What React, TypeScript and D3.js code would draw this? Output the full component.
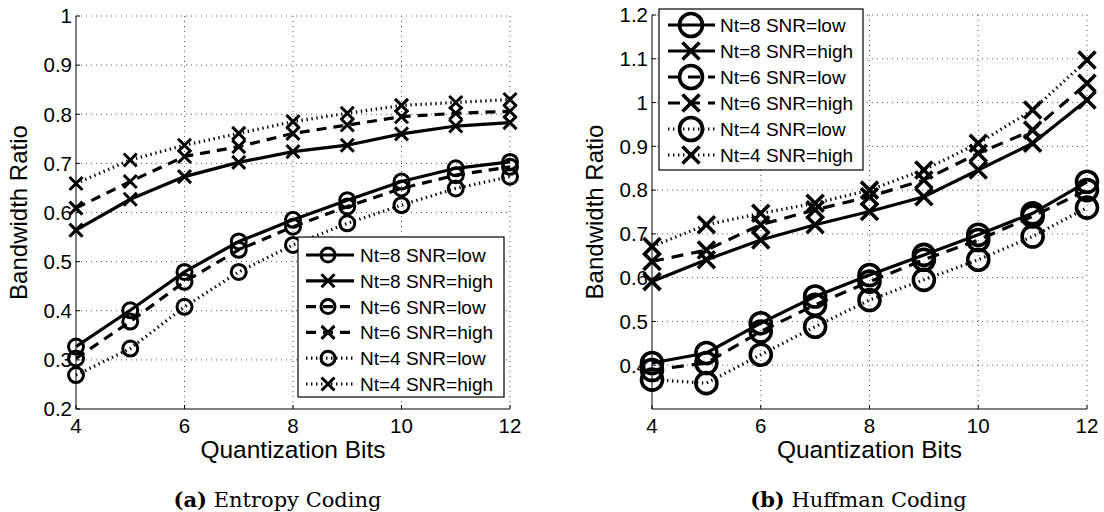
import React from "react";
import * as d3 from "d3";

const bits = [4, 5, 6, 7, 8, 9, 10, 11, 12];
const seriesNames = [
  "Nt=8 SNR=low",
  "Nt=8 SNR=high",
  "Nt=6 SNR=low",
  "Nt=6 SNR=high",
  "Nt=4 SNR=low",
  "Nt=4 SNR=high",
];
const seriesMarkers = ["o", "x", "o", "x", "o", "x"];
const seriesStyles = ["solid", "solid", "dashed", "dashed", "dotted", "dotted"];

// (a) Entropy Coding
const entNt8Low = [0.327, 0.401, 0.479, 0.541, 0.585, 0.625, 0.663, 0.69, 0.703];
const entNt8High = [0.564, 0.627, 0.673, 0.702, 0.724, 0.737, 0.76, 0.776, 0.783];
const entNt6Low = [0.303, 0.378, 0.459, 0.524, 0.571, 0.612, 0.649, 0.676, 0.693];
const entNt6High = [0.609, 0.663, 0.714, 0.734, 0.761, 0.778, 0.795, 0.802, 0.806];
const entNt4Low = [0.269, 0.323, 0.408, 0.479, 0.534, 0.578, 0.615, 0.649, 0.673];
const entNt4High = [0.659, 0.707, 0.737, 0.761, 0.785, 0.802, 0.818, 0.824, 0.83];

// (b) Huffman Coding
const hufNt8Low = [0.405, 0.428, 0.496, 0.557, 0.606, 0.652, 0.698, 0.747, 0.819];
const hufNt8High = [0.591, 0.641, 0.686, 0.721, 0.751, 0.785, 0.846, 0.907, 1.006];
const hufNt6Low = [0.389, 0.405, 0.477, 0.538, 0.591, 0.641, 0.686, 0.74, 0.8];
const hufNt6High = [0.637, 0.663, 0.721, 0.755, 0.785, 0.823, 0.884, 0.937, 1.044];
const hufNt4Low = [0.367, 0.359, 0.424, 0.488, 0.549, 0.595, 0.641, 0.694, 0.76];
const hufNt4High = [0.671, 0.721, 0.747, 0.77, 0.8, 0.846, 0.907, 0.983, 1.097];

const xTicks = [4, 6, 8, 10, 12];
const entYTicks = [0.2, 0.3, 0.4, 0.5, 0.6, 0.7, 0.8, 0.9, 1];
const hufYTicks = [0.4, 0.5, 0.6, 0.7, 0.8, 0.9, 1, 1.1, 1.2];

const xLabel = "Quantization Bits";
const yLabel = "Bandwidth Ratio";
const captions = [
  { tag: "(a)", text: "Entropy Coding" },
  { tag: "(b)", text: "Huffman Coding" },
];

const SANS = "'Liberation Sans', Arial, Helvetica, sans-serif";
const SERIF = "'DejaVu Serif', serif";

type PanelProps = {
  left: number;
  right: number;
  top: number;
  bottom: number;
  yDomain: [number, number];
  yTicks: number[];
  data: number[][];
  legend: { x: number; y: number; w: number; h: number; row0: number; rowGap: number; lineX0: number; lineX1: number; markX: number; textX: number };
  markR: number;
  xHalf: number;
  markW: number;
  lineW: number;
  dash: string;
  dot: string;
  legendR: number;
  legendXHalf: number;
  yLabelX: number;
};

function Marker({ type, cx, cy, r, xh, w }: { type: string; cx: number; cy: number; r: number; xh: number; w: number }) {
  if (type === "o") {
    return <circle cx={cx} cy={cy} r={r} fill="none" stroke="#000" strokeWidth={w} />;
  }
  return (
    <path
      d={`M${cx - xh},${cy - xh}L${cx + xh},${cy + xh}M${cx - xh},${cy + xh}L${cx + xh},${cy - xh}`}
      stroke="#000"
      strokeWidth={w}
      fill="none"
    />
  );
}

function Panel(p: PanelProps) {
  const x = d3.scaleLinear().domain([4, 12]).range([p.left, p.right]);
  const y = d3.scaleLinear().domain(p.yDomain).range([p.bottom, p.top]);
  const fmt = (v: number) => d3.format("~g")(v);
  const dashFor = (s: string) => (s === "dashed" ? p.dash : s === "dotted" ? p.dot : undefined);
  const line = d3
    .line<number>()
    .x((_, i) => x(bits[i]))
    .y((v) => y(v));
  const L = p.legend;
  return (
    <g>
      {/* grid */}
      {xTicks.filter((t) => t !== 4).map((t) => (
        <line key={"gx" + t} x1={x(t)} x2={x(t)} y1={p.top} y2={p.bottom} stroke="#555" strokeWidth={1} strokeDasharray="1,4" />
      ))}
      {p.yTicks.filter((t) => y(t) < p.bottom - 1).map((t) => (
        <line key={"gy" + t} x1={p.left} x2={p.right} y1={y(t)} y2={y(t)} stroke="#555" strokeWidth={1} strokeDasharray="1,4" />
      ))}
      {/* axes */}
      <line x1={p.left} x2={p.left} y1={p.top} y2={p.bottom} stroke="#000" strokeWidth={1} />
      <line x1={p.left} x2={p.right} y1={p.bottom} y2={p.bottom} stroke="#000" strokeWidth={1} />
      {xTicks.map((t) => (
        <g key={"xt" + t}>
          <line x1={x(t)} x2={x(t)} y1={p.bottom} y2={p.bottom - 4} stroke="#000" />
          <text x={x(t)} y={p.bottom + 24} textAnchor="middle" fontFamily={SANS} fontSize={20.5}>
            {fmt(t)}
          </text>
        </g>
      ))}
      {p.yTicks.map((t) => (
        <g key={"yt" + t}>
          <line x1={p.left} x2={p.left + 4} y1={y(t)} y2={y(t)} stroke="#000" />
          <text x={p.left - 4} y={y(t) + 7.3} textAnchor="end" fontFamily={SANS} fontSize={20.5}>
            {fmt(t)}
          </text>
        </g>
      ))}
      <text x={(p.left + p.right) / 2} y={p.bottom + 49} textAnchor="middle" fontFamily={SANS} fontSize={24.5}>
        {xLabel}
      </text>
      <text
        transform={`translate(${p.yLabelX},${(p.top + p.bottom) / 2}) rotate(-90)`}
        textAnchor="middle"
        fontFamily={SANS}
        fontSize={24}
      >
        {yLabel}
      </text>
      {/* series */}
      {p.data.map((vals, si) => (
        <g key={"s" + si}>
          <path
            d={line(vals) || ""}
            fill="none"
            stroke="#000"
            strokeWidth={p.lineW}
            strokeDasharray={dashFor(seriesStyles[si])}
          />
          {vals.map((v, i) => (
            <Marker key={i} type={seriesMarkers[si]} cx={x(bits[i])} cy={y(v)} r={p.markR} xh={p.xHalf} w={p.markW} />
          ))}
        </g>
      ))}
      {/* legend */}
      <rect x={L.x} y={L.y} width={L.w} height={L.h} fill="#fff" stroke="#000" strokeWidth={1.2} />
      {seriesNames.map((name, si) => {
        const cy = L.y + L.row0 + si * L.rowGap;
        return (
          <g key={"lg" + si}>
            <line
              x1={L.x + L.lineX0}
              x2={L.x + L.lineX1}
              y1={cy}
              y2={cy}
              stroke="#000"
              strokeWidth={p.lineW}
              strokeDasharray={dashFor(seriesStyles[si])}
            />
            <Marker type={seriesMarkers[si]} cx={L.x + L.markX} cy={cy} r={p.legendR} xh={p.legendXHalf} w={p.markW} />
            <text x={L.x + L.textX} y={cy + 7} fontFamily={SANS} fontSize={19}>
              {name}
            </text>
          </g>
        );
      })}
    </g>
  );
}

export default function App() {
  const entData = [entNt8Low, entNt8High, entNt6Low, entNt6High, entNt4Low, entNt4High];
  const hufData = [hufNt8Low, hufNt8High, hufNt6Low, hufNt6High, hufNt4Low, hufNt4High];
  return (
    <svg width={1104} height={512} style={{ position: "absolute", left: 0, top: 0, background: "#fff" }}>
      <rect width={1104} height={512} fill="#fff" />
      <Panel
        left={76}
        right={510}
        top={16}
        bottom={409}
        yDomain={[0.2, 1]}
        yTicks={entYTicks}
        data={entData}
        legend={{ x: 298, y: 237, w: 206, h: 160, row0: 18, rowGap: 25.8, lineX0: 8, lineX1: 56, markX: 30, textX: 62 }}
        markR={7.5}
        xHalf={6.5}
        markW={3}
        lineW={3.2}
        dash="10,7"
        dot="1.4,3.6"
        legendR={7}
        legendXHalf={6.5}
        yLabelX={27}
      />
      <Panel
        left={652}
        right={1087}
        top={15}
        bottom={409}
        yDomain={[0.3, 1.2]}
        yTicks={hufYTicks}
        data={hufData}
        legend={{ x: 659, y: 9, w: 204, h: 161, row0: 16, rowGap: 26, lineX0: 9, lineX1: 56, markX: 32, textX: 61 }}
        markR={10.5}
        xHalf={8.5}
        markW={3.6}
        lineW={3.2}
        dash="12,8"
        dot="1.4,3.6"
        legendR={11.5}
        legendXHalf={8.5}
        yLabelX={603}
      />
      {captions.map((c, i) => (
        <text key={i} x={i === 0 ? 277.5 : 858.5} y={507} textAnchor="middle" fontFamily={SERIF} fontSize={21}>
          <tspan fontWeight="bold">{c.tag}</tspan>
          <tspan> {c.text}</tspan>
        </text>
      ))}
    </svg>
  );
}
